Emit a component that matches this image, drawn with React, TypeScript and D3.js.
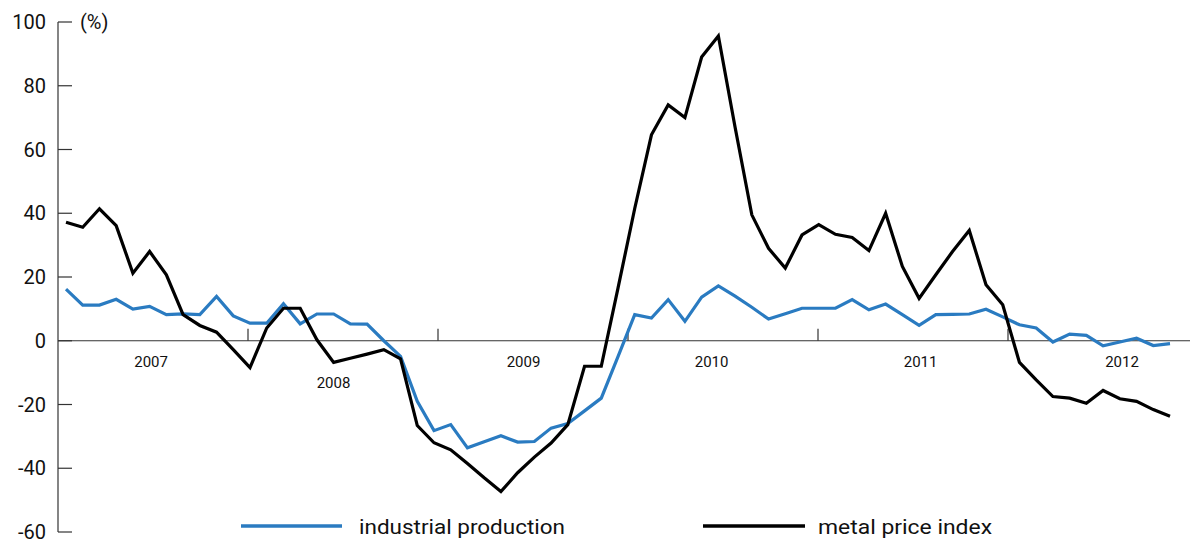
import React, { useEffect, useRef } from 'react';
import * as d3 from 'd3';

// monthly, Jan 2007 .. Jul 2012 (y/y %)
const industrialProduction = [
  16.2, 11.2, 11.2, 13.0, 9.9, 10.8, 8.2, 8.4, 8.2, 13.9, 7.8, 5.5,
  5.5, 11.6, 5.3, 8.4, 8.4, 5.3, 5.2, 0.0, -4.9, -19.0, -28.2, -26.3,
  -33.6, -31.7, -29.8, -31.8, -31.6, -27.4, -26.0, -22.0, -18.0, -5.0, 8.2, 7.1,
  12.9, 6.1, 13.7, 17.2, 14.0, 10.5, 6.8, 8.5, 10.2, 10.2, 10.2, 12.9,
  9.7, 11.5, 8.2, 4.8, 8.2, 8.3, 8.4, 9.9, 7.5, 5.0, 4.0, -0.4,
  2.1, 1.7, -1.6, -0.4, 0.8, -1.5, -0.9,
];

const metalPriceIndex = [
  37.2, 35.6, 41.4, 36.1, 21.2, 28.0, 20.7, 8.2, 4.8, 2.7, -2.8, -8.4,
  4.0, 10.2, 10.2, 0.3, -6.8, -5.5, -4.2, -2.8, -5.7, -26.6, -32.0, -34.2,
  -38.5, -43.0, -47.3, -41.4, -36.5, -32.1, -26.3, -8.0, -8.0, 16.5, 41.5, 64.6,
  74.0, 70.0, 89.0, 95.6, 67.0, 39.5, 29.0, 22.8, 33.2, 36.4, 33.4, 32.4,
  28.3, 40.0, 23.3, 13.3, 20.7, 28.0, 34.6, 17.6, 11.3, -6.8, -12.3, -17.5,
  -18.0, -19.6, -15.6, -18.2, -19.0, -21.6, -23.7,
];

const yTicks = [100, 80, 60, 40, 20, 0, -20, -40, -60];
const yearTicks = [2008, 2009, 2010, 2011, 2012];
const yearLabels = ['2007', '2008', '2009', '2010', '2011', '2012'];
const yearLabelPos = [2007.49, 2008.45, 2009.45, 2010.44, 2011.54, 2012.6];

const series = [
  { name: 'industrial production', values: industrialProduction, color: '#2a7bc1' },
  { name: 'metal price index', values: metalPriceIndex, color: '#000000' },
];

const App = () => {
  const svgRef = useRef<SVGSVGElement>(null);

  useEffect(() => {
    const width = 1190;
    const height = 540;
    const svg = d3.select(svgRef.current);
    svg.selectAll('*').remove();
    svg.attr('width', width).attr('height', height);

    const axisX = 58;
    const font = 'Roboto, "Noto Sans", sans-serif';

    const x = d3
      .scaleLinear()
      .domain([0, industrialProduction.length - 1])
      .range([66, 1170]);
    const xYear = d3.scaleLinear().domain([2007, 2013]).range([axisX, axisX + 1140]);
    const y = d3.scaleLinear().domain([-60, 100]).range([532, 22]);

    // y axis
    svg
      .append('line')
      .attr('x1', axisX)
      .attr('x2', axisX)
      .attr('y1', y(100))
      .attr('y2', y(-60))
      .attr('stroke', '#333')
      .attr('stroke-width', 1.2);

    svg
      .selectAll('.ytick')
      .data(yTicks)
      .enter()
      .append('line')
      .attr('x1', axisX)
      .attr('x2', axisX + 14)
      .attr('y1', (d) => y(d))
      .attr('y2', (d) => y(d))
      .attr('stroke', '#333')
      .attr('stroke-width', 1.2);

    svg
      .selectAll('.ylabel')
      .data(yTicks)
      .enter()
      .append('text')
      .attr('x', 46)
      .attr('y', (d) => y(d))
      .attr('dy', '0.36em')
      .attr('text-anchor', 'end')
      .style('font-family', font)
      .style('font-size', '20px')
      .attr('fill', '#111')
      .text((d) => d);

    svg
      .append('text')
      .attr('x', 80)
      .attr('y', y(100))
      .attr('dy', '0.36em')
      .style('font-family', font)
      .style('font-size', '20px')
      .attr('fill', '#111')
      .text('(%)');

    // zero line + year separators
    svg
      .append('line')
      .attr('x1', axisX)
      .attr('x2', width)
      .attr('y1', y(0))
      .attr('y2', y(0))
      .attr('stroke', '#333')
      .attr('stroke-width', 1.2);

    svg
      .selectAll('.xtick')
      .data(yearTicks)
      .enter()
      .append('line')
      .attr('x1', (d) => xYear(d))
      .attr('x2', (d) => xYear(d))
      .attr('y1', y(0))
      .attr('y2', y(0) - 12)
      .attr('stroke', '#333')
      .attr('stroke-width', 1.2);

    svg
      .selectAll('.xlabel')
      .data(yearLabels)
      .enter()
      .append('text')
      .attr('x', (d, i) => xYear(yearLabelPos[i]))
      .attr('y', (d) => (d === '2008' ? 388 : 367))
      .attr('text-anchor', 'middle')
      .style('font-family', font)
      .style('font-size', '15px')
      .attr('fill', '#111')
      .text((d) => d);

    // lines
    const line = d3
      .line<number>()
      .x((d, i) => x(i))
      .y((d) => y(d));

    series.forEach((s) => {
      svg
        .append('path')
        .datum(s.values)
        .attr('fill', 'none')
        .attr('stroke', s.color)
        .attr('stroke-width', 3.2)
        .attr('stroke-linejoin', 'miter')
        .attr('d', line);
    });

    // legend
    const legend = [
      { x1: 241, x2: 342, tx: 359, tw: 206 },
      { x1: 703, x2: 805, tx: 818, tw: 174 },
    ];
    series.forEach((s, i) => {
      const l = legend[i];
      svg
        .append('line')
        .attr('x1', l.x1)
        .attr('x2', l.x2)
        .attr('y1', 526)
        .attr('y2', 526)
        .attr('stroke', s.color)
        .attr('stroke-width', 3.5);
      svg
        .append('text')
        .attr('x', l.tx)
        .attr('y', 534)
        .attr('textLength', l.tw)
        .attr('lengthAdjust', 'spacingAndGlyphs')
        .style('font-family', font)
        .style('font-size', '20px')
        .attr('fill', '#111')
        .text(s.name);
    });
  }, []);

  return (
    <div style={{ position: 'absolute', left: 0, top: 0, width: 1190, height: 540, background: '#fff' }}>
      <svg ref={svgRef} style={{ display: 'block' }}></svg>
    </div>
  );
};

export default App;
